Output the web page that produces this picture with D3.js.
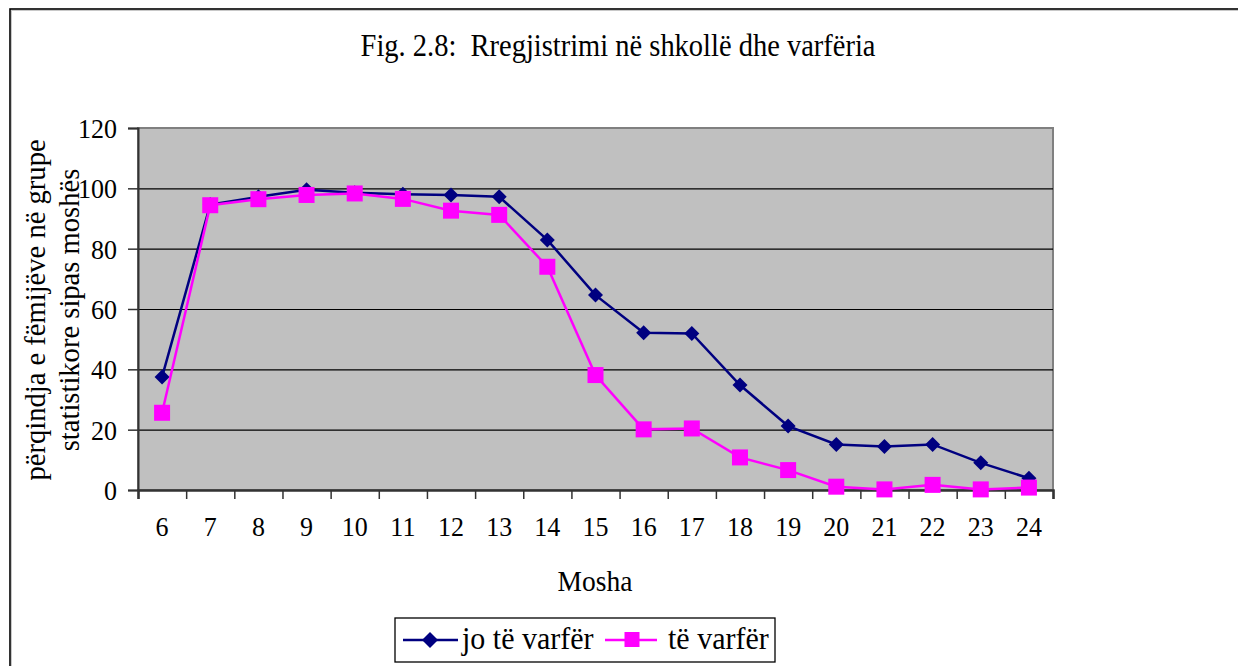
<!DOCTYPE html>
<html>
<head>
<meta charset="utf-8">
<script src="https://cdn.jsdelivr.net/npm/d3@7"></script>
<style>
  body { margin: 0; background: #fff; }
  svg, svg text, svg g { font-family: "Liberation Serif", "Times New Roman", serif !important; }
  svg text { fill: #000; white-space: pre; }
</style>
</head>
<body>
<div id="chart"></div>
<script>
let ages = ["6", "7", "8", "9", "10", "11", "12", "13", "14", "15", "16", "17", "18", "19", "20", "21", "22", "23", "24"];
let joVarfer = [37.5, 94.6, 97.2, 99.5, 98.5, 98.0, 97.8, 97.2, 82.9, 64.6, 52.1, 51.9, 34.8, 21.2, 15.1, 14.4, 15.1, 9.0, 3.9];
let varfer = [25.6, 94.4, 96.4, 97.8, 98.3, 96.5, 92.6, 91.2, 74.0, 38.1, 20.1, 20.4, 10.8, 6.6, 1.1, 0.2, 1.7, 0.2, 0.8];
let yTicks = [0, 20, 40, 60, 80, 100, 120];

let titleText = "Fig. 2.8:  Rregjistrimi në shkollë dhe varfëria";
let xTitle = "Mosha";
let yTitle = ["përqindja e fëmijëve në grupe", "statistikore sipas moshës"];
let seriesNames = ["jo të varfër", "të varfër"];

const W = 1238, H = 666;
const FONT = "'Liberation Serif', 'Times New Roman', serif";
const plot = { left: 138, top: 128, right: 1053, bottom: 490 };

function drawChart(e) {
    let svg = d3.select(e).append("svg")
	.attr("width", W).attr("height", H)
	.style("font-family", FONT);

    // outer frame (runs off the right and bottom edge)
    svg.append("rect")
	.attr("x", 11.5).attr("y", 10.5).attr("width", W + 20).attr("height", H + 20)
	.attr("fill", "none").attr("stroke", "#c8c8c8").attr("stroke-width", 1);
    svg.append("rect")
	.attr("x", 10).attr("y", 9).attr("width", W + 20).attr("height", H + 20)
	.attr("fill", "none").attr("stroke", "#000").attr("stroke-width", 1.6);

    let x = d3.scaleBand().domain(ages).range([plot.left, plot.right]).padding(0);
    let xEdge = d3.scaleLinear().domain([0, ages.length]).range([plot.left, plot.right]);
    let y = d3.scaleLinear().domain([0, 120]).range([plot.bottom, plot.top]);
    let xc = function(d, i) { return x(ages[i]) + x.bandwidth() / 2; };

    // plot area
    svg.append("rect")
	.attr("x", plot.left).attr("y", plot.top)
	.attr("width", plot.right - plot.left).attr("height", plot.bottom - plot.top)
	.attr("fill", "#c0c0c0").attr("stroke", "#808080").attr("stroke-width", 2);

    // gridlines
    svg.append("g")
	.attr("transform", "translate(" + plot.left + ",0)")
	.call(d3.axisLeft(y).tickValues(yTicks.slice(1, -1)).tickSize(-(plot.right - plot.left)).tickFormat(""))
	.call(g => g.select(".domain").remove())
	.call(g => g.selectAll("line").attr("stroke", "#000").attr("stroke-width", 1.2));

    // y-axis
    let ya = svg.append("g")
	.attr("transform", "translate(" + plot.left + ",0)")
	.call(d3.axisLeft(y).tickValues(yTicks).tickSize(10).tickPadding(11))
	.attr("font-family", FONT).attr("font-size", 26);
    ya.select(".domain").attr("stroke", "#333").attr("stroke-width", 2);
    ya.selectAll("line").attr("stroke", "#333").attr("stroke-width", 1.5);
    ya.selectAll("text")
	.style("font-family", FONT).style("font-size", "26px")
	.attr("fill", "#000").attr("dy", "0.34em")
	.attr("transform", "scale(1,1.08)");

    // x-axis, ticks between the categories
    let xa = svg.append("g")
	.attr("transform", "translate(0," + plot.bottom + ")")
	.call(d3.axisBottom(xEdge).tickValues(d3.range(ages.length + 1)).tickSize(9).tickFormat(""));
    xa.select(".domain").attr("stroke", "#333").attr("stroke-width", 2.5);
    xa.selectAll("line").attr("stroke", "#333").attr("stroke-width", 1.5);

    let xl = svg.append("g")
	.attr("transform", "translate(0," + plot.bottom + ")")
	.call(d3.axisBottom(x).tickSize(0).tickPadding(30.5))
	.attr("font-family", FONT).attr("font-size", 26);
    xl.select(".domain").remove();
    xl.selectAll("text")
	.style("font-family", FONT).style("font-size", "26px")
	.attr("fill", "#000").attr("dy", "0.45em")
	.attr("transform", "scale(1,1.08)");

    // titles
    svg.append("text")
	.attr("transform", "translate(618,56) scale(1,1.1)")
	.attr("text-anchor", "middle")
	.style("font-family", FONT).style("font-size", "28.5px")
	.text(titleText);
    svg.append("text")
	.attr("transform", "translate(595,591) scale(1,1.08)")
	.attr("text-anchor", "middle")
	.style("font-family", FONT).style("font-size", "27.5px")
	.text(xTitle);
    yTitle.forEach(function(t, i) {
	svg.append("text")
	    .attr("transform", "translate(" + (45 + i * 34) + ",310) rotate(-90) scale(1.04,1.04)")
	    .attr("text-anchor", "middle")
	    .style("font-family", FONT).style("font-size", "27.5px")
	    .text(t);
    });

    let line = d3.line().x(xc).y(function(d) { return y(d); });

    // jo te varfer
    svg.append("path")
	.datum(joVarfer)
	.attr("d", line)
	.attr("fill", "none").attr("stroke", "#000080").attr("stroke-width", 2.5);
    svg.append("g").selectAll("path")
	.data(joVarfer).join("path")
	.attr("transform", function(d, i) { return "translate(" + xc(d, i) + "," + y(d) + ")"; })
	.attr("d", "M0,-7.5L7.5,0L0,7.5L-7.5,0Z")
	.attr("fill", "#000080");

    // te varfer
    svg.append("path")
	.datum(varfer)
	.attr("d", line)
	.attr("fill", "none").attr("stroke", "#ff00ff").attr("stroke-width", 2.5);
    svg.append("g").selectAll("rect")
	.data(varfer).join("rect")
	.attr("x", function(d, i) { return xc(d, i) - 8; })
	.attr("y", function(d) { return y(d) - 8; })
	.attr("width", 16).attr("height", 16)
	.attr("fill", "#ff00ff");

    // legend
    let lg = svg.append("g");
    lg.append("rect")
	.attr("x", 395).attr("y", 618).attr("width", 380).attr("height", 44)
	.attr("fill", "#fff").attr("stroke", "#000").attr("stroke-width", 1.3);
    lg.append("line").attr("x1", 403).attr("x2", 458).attr("y1", 640).attr("y2", 640)
	.attr("stroke", "#000080").attr("stroke-width", 2.5);
    lg.append("path").attr("transform", "translate(430,640)")
	.attr("d", "M0,-8L8,0L0,8L-8,0Z").attr("fill", "#000080");
    lg.append("text")
	.attr("transform", "translate(462,649) scale(1,1.04)")
	.style("font-family", FONT).style("font-size", "30px")
	.text(seriesNames[0]);
    lg.append("line").attr("x1", 605).attr("x2", 657).attr("y1", 640).attr("y2", 640)
	.attr("stroke", "#ff00ff").attr("stroke-width", 2.5);
    lg.append("rect").attr("x", 624.5).attr("y", 632).attr("width", 15).attr("height", 15)
	.attr("fill", "#ff00ff");
    lg.append("text")
	.attr("transform", "translate(668,649) scale(1,1.04)")
	.style("font-family", FONT).style("font-size", "30px")
	.text(seriesNames[1]);
}

drawChart("#chart");
</script>
</body>
</html>
